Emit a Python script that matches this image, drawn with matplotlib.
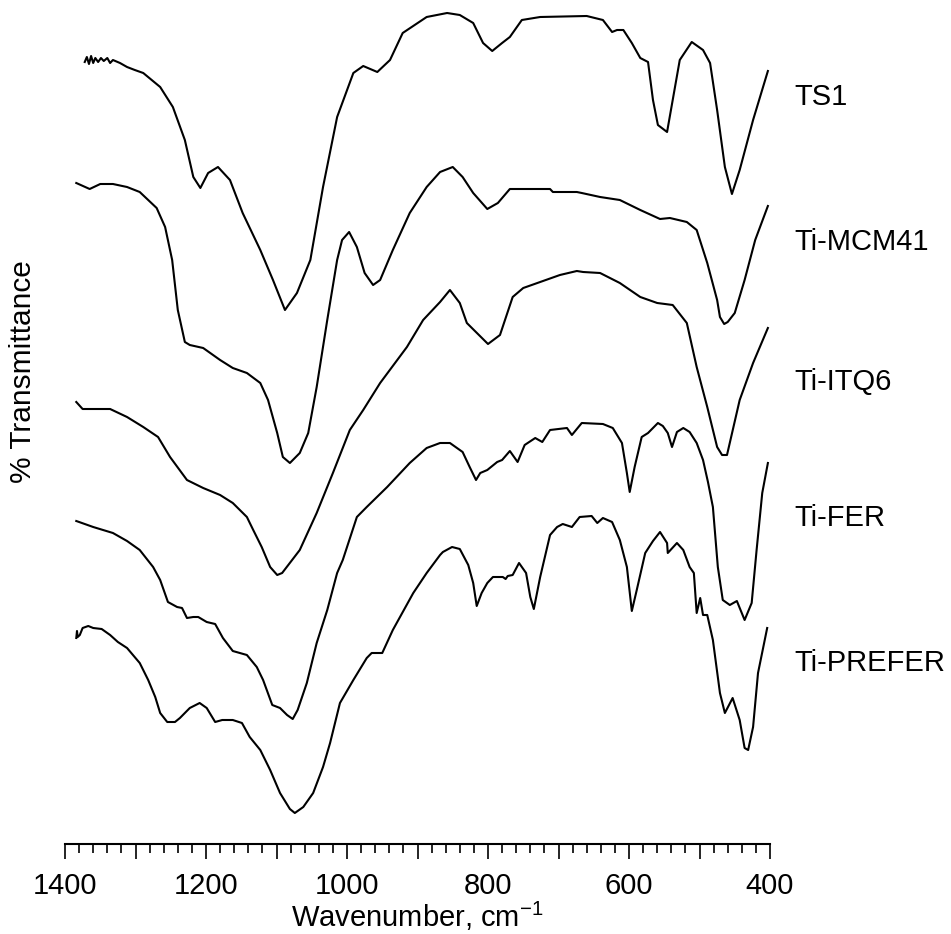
"""
FT-IR spectra of Ti-containing materials, stacked with offsets.
"""

import matplotlib.pyplot as plt
from matplotlib.ticker import MultipleLocator, FuncFormatter

# values (arbitrary % transmittance units, stacked)
wn_ts1 = [1372, 1369, 1366, 1363, 1360, 1357, 1353, 1349, 1345, 1340, 1336, 1332, 1322, 1312,
          1301, 1289, 1265, 1247, 1230, 1218, 1208, 1197, 1183, 1166, 1148, 1123, 1105, 1088,
          1071, 1052, 1034, 1014, 991, 977, 967, 957, 939, 921, 887, 858, 840, 821, 807, 794,
          780, 769, 752, 726, 660, 637, 624, 617, 608, 596, 584, 573, 566, 559, 546, 538, 528,
          511, 495, 485, 475, 464, 454, 443, 424, 403]
t_ts1 = [782, 787, 780, 788, 781, 786, 782, 786, 783, 786, 781, 784, 781, 777,
         774, 771, 757, 737, 704, 667, 656, 671, 677, 664, 631, 594, 564, 534,
         551, 584, 657, 727, 771, 778, 775, 772, 784, 811, 827, 831, 829, 821, 801, 793,
         801, 807, 824, 827, 828, 824, 812, 814, 814, 801, 786, 782, 744, 719, 712, 744, 784,
         802, 794, 781, 734, 677, 650, 674, 724, 773]

wn_mcm = [1384, 1365, 1350, 1332, 1312, 1294, 1270, 1258, 1248, 1240, 1230, 1223, 1204, 1180,
          1162, 1142, 1123, 1112, 1099, 1091, 1081, 1067, 1055, 1043, 1028, 1014, 1007, 997,
          986, 975, 963, 953, 935, 911, 887, 868, 850, 836, 821, 801, 786, 769, 712, 708, 674,
          667, 641, 613, 584, 556, 542, 518, 504, 489, 475, 471, 465, 460, 450, 436, 421, 403]
t_mcm = [661, 655, 660, 660, 657, 652, 636, 617, 584, 534, 502, 499, 496, 484,
         476, 471, 461, 444, 411, 387, 381, 391, 411, 457, 524, 584, 604, 612,
         597, 571, 559, 564, 594, 631, 657, 672, 677, 667, 651, 635, 641, 655, 655, 652, 652,
         651, 647, 644, 634, 625, 626, 622, 614, 581, 544, 527, 520, 522, 531, 564, 604, 638]

wn_itq = [1384, 1375, 1336, 1312, 1289, 1268, 1251, 1227, 1204, 1180, 1162, 1142, 1133, 1121,
          1109, 1099, 1092, 1067, 1043, 1020, 996, 977, 953, 915, 892, 868, 854, 840, 830,
          800, 783, 765, 750, 726, 698, 674, 665, 641, 613, 584, 560, 538, 518, 504, 489, 475,
          468, 461, 443, 424, 403]
t_itq = [442, 435, 435, 427, 417, 407, 387, 364, 356, 349, 341, 327, 314, 297,
         277, 269, 271, 294, 331, 371, 414, 434, 461, 497, 524, 542, 554, 541, 521,
         500, 509, 547, 556, 562, 569, 573, 572, 571, 561, 547, 541, 539, 521, 477, 437, 397,
         389, 389, 444, 481, 516]

wn_fer = [1384, 1360, 1332, 1312, 1294, 1275, 1265, 1254, 1241, 1234, 1227, 1218, 1211, 1199,
          1187, 1176, 1162, 1142, 1128, 1119, 1106, 1095, 1085, 1077, 1070, 1057, 1043, 1028,
          1014, 1006, 986, 972, 943, 911, 887, 868, 854, 836, 826, 817, 811, 801, 787, 780,
          769, 758, 748, 733, 723, 712, 688, 681, 667, 637, 623, 610, 603, 599, 592, 582, 573,
          559, 552, 545, 539, 532, 523, 514, 504, 495, 488, 481, 474, 467, 457, 447, 436, 426,
          419, 411, 403]
t_fer = [323, 317, 311, 303, 294, 277, 264, 242, 237, 236, 226, 227, 227, 222,
         220, 206, 193, 189, 177, 164, 139, 136, 129, 125, 134, 161, 201, 234,
         271, 284, 327, 337, 357, 381, 396, 401, 401, 392, 377, 364, 371, 374, 382, 384,
         393, 382, 399, 406, 402, 414, 416, 409, 421, 420, 416, 401, 371, 352, 377, 407, 411,
         421, 418, 411, 397, 412, 416, 412, 401, 384, 362, 337, 277, 244, 239, 243, 224, 241,
         294, 351, 381]

wn_prefer = [1384, 1383, 1382, 1379, 1375, 1367, 1360, 1348, 1336, 1325, 1312, 1294, 1282, 1272,
             1265, 1255, 1244, 1237, 1223, 1209, 1199, 1187, 1177, 1162, 1149, 1138, 1123,
             1109, 1095, 1081, 1074, 1062, 1048, 1034, 1024, 1010, 991, 972, 965, 950, 935,
             906, 887, 868, 864, 851, 840, 828, 821, 816, 809, 801, 793, 779, 775, 772, 765,
             756, 746, 740, 735, 726, 712, 702, 694, 681, 670, 653, 645, 637, 624, 613, 603,
             596, 589, 577, 566, 556, 546, 545, 532, 523, 514, 508, 504, 499, 495, 489, 481,
             471, 464, 453, 443, 436, 431, 424, 417, 404]
t_prefer = [206, 213, 207, 209, 216, 218, 216, 215, 209, 202, 196, 181, 164, 147,
            131, 122, 122, 126, 136, 141, 136, 122, 124, 124, 121, 107, 94,
            74, 51, 35, 31, 37, 51, 77, 101, 141, 164, 186, 191, 191, 214,
            251, 271, 289, 292, 297, 295, 279, 261, 238, 251, 261, 267, 267, 265, 268, 269,
            281, 271, 247, 235, 267, 309, 317, 320, 317, 327, 328, 321, 326, 322, 304, 277,
            233, 254, 291, 303, 312, 301, 291, 301, 294, 277, 271, 231, 246, 229, 229, 204,
            151, 131, 146, 124, 96, 94, 117, 171, 216]

names = ["TS1", "Ti-MCM41", "Ti-ITQ6", "Ti-FER", "Ti-PREFER"]
label_y = [747, 602, 462, 326, 181]

FONT = "Liberation Sans"
plt.rcParams["font.family"] = [FONT, "DejaVu Sans"]
plt.rcParams["mathtext.fontset"] = "custom"
plt.rcParams["mathtext.rm"] = FONT
plt.rcParams["mathtext.it"] = FONT
plt.rcParams["mathtext.bf"] = FONT

fig = plt.figure(figsize=(9.51, 9.34), dpi=100)
ax = fig.add_axes([65 / 951, 90 / 934, 705 / 951, 839 / 934])

series = [(wn_ts1, t_ts1), (wn_mcm, t_mcm), (wn_itq, t_itq), (wn_fer, t_fer), (wn_prefer, t_prefer)]
for (x, y), name, ly in zip(series, names, label_y):
    ax.plot(x, y, color="black", linewidth=1.5, solid_joinstyle="round")
    ax.text(366, ly, name, fontsize=21, ha="left", va="center", clip_on=False)

ax.set_xlim(1400, 400)
ax.set_ylim(0, 839)

for side in ["top", "right", "left"]:
    ax.spines[side].set_visible(False)
ax.spines["bottom"].set_linewidth(1.5)
ax.set_yticks([])

ax.xaxis.set_major_locator(MultipleLocator(100))
ax.xaxis.set_minor_locator(MultipleLocator(20))
ax.xaxis.set_major_formatter(FuncFormatter(lambda v, p: f"{v:.0f}" if round(v) % 200 == 0 else ""))
ax.tick_params(axis="x", which="major", direction="out", length=11, width=1.2, labelsize=21, pad=9)
ax.tick_params(axis="x", which="minor", direction="out", length=6.5, width=1.2)

ax.set_xlabel("Wavenumber, cm$^{-1}$", fontsize=21, labelpad=0)
fig.text(23 / 951, 1 - 372 / 934, "% Transmittance", rotation=90, fontsize=21.5,
         ha="center", va="center")

plt.savefig("out.png", dpi=100)
print("Saved to out.png")
